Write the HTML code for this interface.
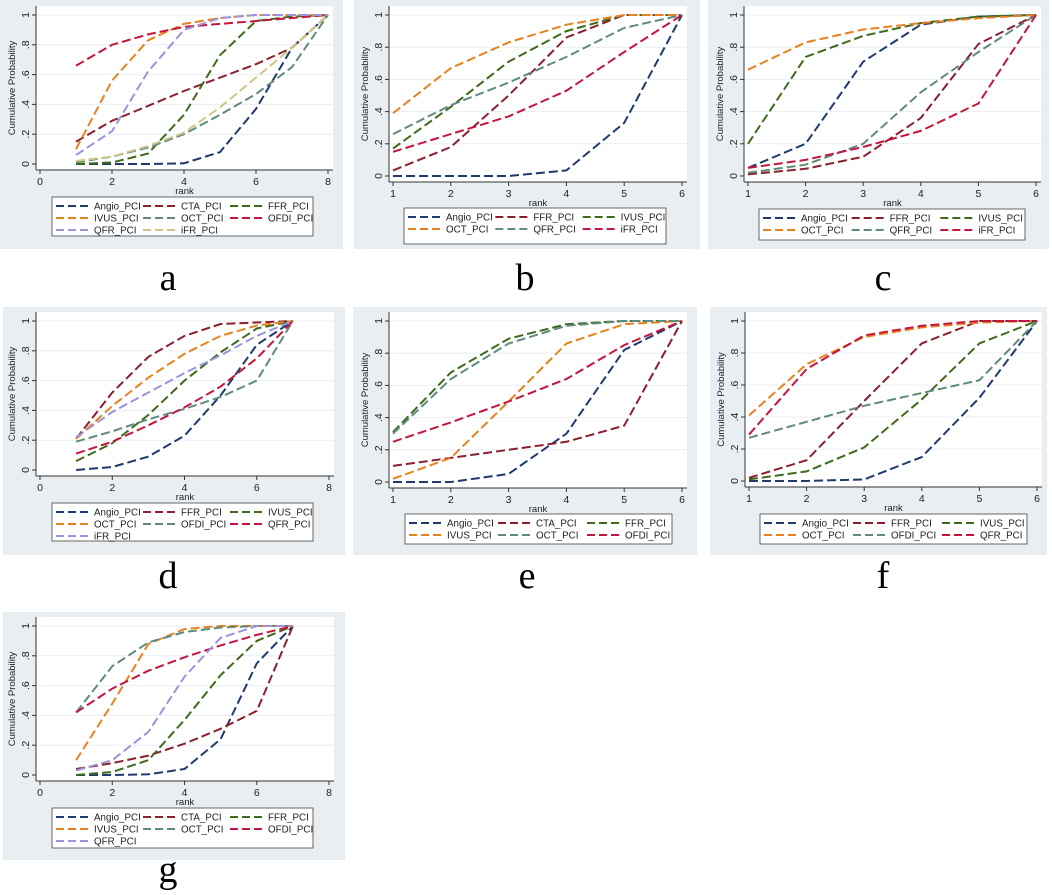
<!DOCTYPE html>
<html><head><meta charset="utf-8">
<style>
html,body{margin:0;padding:0;background:#fff;}
svg{display:block;font-family:"Liberation Sans",Arial,sans-serif;}
</style></head>
<body>
<svg id="fig" width="1052" height="895" viewBox="0 0 1052 895" xmlns="http://www.w3.org/2000/svg"></svg>
<script>
// ---------- data ----------
const colors = ['#1f3a6e','#8b1f2e','#3f6a1c','#e8821e','#5f8a7c','#c4163d','#9b93dc','#cfc585'];
const yTicks = [0,0.2,0.4,0.6,0.8,1];
const yTickLabels = ['0','.2','.4','.6','.8','1'];

const namesA = ['Angio_PCI','CTA_PCI','FFR_PCI','IVUS_PCI','OCT_PCI','OFDI_PCI','QFR_PCI','iFR_PCI'];
const valsA = [
 [0,0,0,0.005,0.08,0.37,0.78,1],
 [0.15,0.29,0.39,0.49,0.58,0.67,0.78,1],
 [0,0.01,0.07,0.33,0.73,0.96,0.99,1],
 [0.1,0.56,0.83,0.94,0.98,1,1,1],
 [0.01,0.05,0.11,0.2,0.33,0.47,0.65,1],
 [0.66,0.8,0.87,0.92,0.94,0.96,0.98,1],
 [0.06,0.22,0.62,0.9,0.98,1,1,1],
 [0.02,0.05,0.12,0.21,0.38,0.58,0.78,1]];
const namesB = ['Angio_PCI','FFR_PCI','IVUS_PCI','OCT_PCI','QFR_PCI','iFR_PCI'];
const valsB = [
 [0,0,0,0.035,0.33,1],
 [0.035,0.18,0.5,0.86,1,1],
 [0.17,0.43,0.71,0.9,1,1],
 [0.39,0.67,0.83,0.94,1,1],
 [0.26,0.44,0.58,0.74,0.92,1],
 [0.15,0.26,0.37,0.53,0.77,1]];
const namesC = ['Angio_PCI','FFR_PCI','IVUS_PCI','OCT_PCI','QFR_PCI','iFR_PCI'];
const valsC = [
 [0.05,0.2,0.71,0.94,0.99,1],
 [0.01,0.045,0.12,0.36,0.82,1],
 [0.2,0.74,0.87,0.95,0.99,1],
 [0.66,0.83,0.91,0.95,0.98,1],
 [0.02,0.07,0.2,0.52,0.77,1],
 [0.05,0.1,0.18,0.28,0.45,1]];
const namesD = ['Angio_PCI','FFR_PCI','IVUS_PCI','OCT_PCI','OFDI_PCI','QFR_PCI','iFR_PCI'];
const valsD = [
 [0,0.02,0.09,0.23,0.5,0.84,1],
 [0.21,0.52,0.76,0.9,0.98,0.99,1],
 [0.06,0.18,0.37,0.6,0.79,0.95,1],
 [0.21,0.43,0.62,0.78,0.9,0.97,1],
 [0.19,0.26,0.34,0.41,0.49,0.6,1],
 [0.11,0.19,0.3,0.42,0.56,0.75,1],
 [0.22,0.39,0.52,0.65,0.77,0.9,1]];
const namesE = ['Angio_PCI','CTA_PCI','FFR_PCI','IVUS_PCI','OCT_PCI','OFDI_PCI'];
const valsE = [
 [0,0,0.05,0.3,0.82,1],
 [0.1,0.15,0.2,0.25,0.35,1],
 [0.31,0.68,0.89,0.98,1,1],
 [0.02,0.15,0.5,0.86,0.98,1],
 [0.3,0.64,0.86,0.97,1,1],
 [0.25,0.37,0.5,0.64,0.85,1]];
const namesF = ['Angio_PCI','FFR_PCI','IVUS_PCI','OCT_PCI','OFDI_PCI','QFR_PCI'];
const valsF = [
 [0,0,0.01,0.15,0.52,1],
 [0.02,0.13,0.5,0.86,1,1],
 [0.01,0.06,0.21,0.51,0.86,1],
 [0.41,0.73,0.9,0.96,0.99,1],
 [0.27,0.37,0.47,0.55,0.63,1],
 [0.29,0.7,0.91,0.97,1,1]];
const namesG = ['Angio_PCI','CTA_PCI','FFR_PCI','IVUS_PCI','OCT_PCI','OFDI_PCI','QFR_PCI'];
const valsG = [
 [0,0,0.005,0.04,0.24,0.75,1],
 [0.04,0.08,0.13,0.21,0.31,0.43,1],
 [0,0.02,0.1,0.37,0.67,0.9,1],
 [0.1,0.48,0.88,0.98,1,1,1],
 [0.42,0.73,0.89,0.96,0.99,1,1],
 [0.42,0.58,0.7,0.79,0.87,0.94,1],
 [0.03,0.1,0.29,0.66,0.92,1,1]];
const xTicks8 = [0,2,4,6,8];
const xTicks6 = [1,2,3,4,5,6];

// ---------- layout ----------
const panels = [
 {id:'a',names:namesA,vals:valsA,xt:xTicks8,xmin:0,xmax:8,bg:[0,0,343,249],ax0:40,ax1:328,ay1:15,ay0:164,leg:[52,197,261,39],lab:[168,290]},
 {id:'b',names:namesB,vals:valsB,xt:xTicks6,xmin:1,xmax:6,bg:[354,0,346,249],ax0:393,ax1:682,ay1:15,ay0:176,leg:[404,208,262,36],lab:[525,290]},
 {id:'c',names:namesC,vals:valsC,xt:xTicks6,xmin:1,xmax:6,bg:[708,0,341,249],ax0:748,ax1:1036,ay1:15,ay0:176,leg:[759,209,266,31],lab:[883,290]},
 {id:'d',names:namesD,vals:valsD,xt:xTicks8,xmin:0,xmax:8,bg:[3,307,342,248],ax0:40,ax1:329,ay1:321,ay0:470,leg:[52,503,261,38],lab:[168,588]},
 {id:'e',names:namesE,vals:valsE,xt:xTicks6,xmin:1,xmax:6,bg:[353,307,344,248],ax0:393,ax1:682,ay1:321,ay0:482,leg:[405,514,267,30],lab:[527,588]},
 {id:'f',names:namesF,vals:valsF,xt:xTicks6,xmin:1,xmax:6,bg:[710,307,337,248],ax0:749,ax1:1037,ay1:321,ay0:481,leg:[760,514,267,30],lab:[883,588]},
 {id:'g',names:namesG,vals:valsG,xt:xTicks8,xmin:0,xmax:8,bg:[3,612,342,248],ax0:40,ax1:329,ay1:626,ay0:775,leg:[52,808,261,40],lab:[168,882]}
];

const NS='http://www.w3.org/2000/svg';
const svg=document.getElementById('fig');
function mk(tag,attrs,parent){const e=document.createElementNS(NS,tag);for(const k in attrs)e.setAttribute(k,attrs[k]);(parent||svg).appendChild(e);return e;}

panels.forEach(p=>{
  const g=mk('g',{});
  
  
  const xs=v=>p.ax0+(v-p.xmin)/(p.xmax-p.xmin)*(p.ax1-p.ax0);
  const ys=v=>p.ay0-v*(p.ay0-p.ay1);
  const bg=mk('rect',{x:p.bg[0],y:p.bg[1],width:p.bg[2],height:p.bg[3],fill:'#e9eef2'},g);
  
  
  const L=xs(p.xmin)-4, R=xs(p.xmax)+5, T=p.ay1-9, B=p.ay0+6;
  const pr=mk('rect',{x:L,y:T,width:R-L,height:B-T,fill:'#fff'},g);
  
  
  yTicks.forEach((t,i)=>{
    if(t>0){const gl=mk('line',{x1:L,x2:R,y1:ys(t),y2:ys(t),stroke:'#eaeef1','stroke-width':1},g);
    
    }
  });
  const ya=mk('line',{x1:L,x2:L,y1:T,y2:B,stroke:'#333','stroke-width':1},g);
  
  
  const xa=mk('line',{x1:L,x2:R,y1:B,y2:B,stroke:'#333','stroke-width':1},g);
  
  
  yTicks.forEach((t,i)=>{
    mk('line',{x1:L-4,x2:L,y1:ys(t),y2:ys(t),stroke:'#333','stroke-width':1},g);
    const tl=mk('text',{x:L-7,y:ys(t),'font-size':10.5,fill:'#222','text-anchor':'middle',transform:`rotate(-90 ${L-7} ${ys(t)})`},g);
    tl.textContent=yTickLabels[i];
    
    
  });
  p.xt.forEach(t=>{
    mk('line',{x1:xs(t),x2:xs(t),y1:B,y2:B+4,stroke:'#333','stroke-width':1},g);
    const tl=mk('text',{x:xs(t),y:B+15,'font-size':10.5,fill:'#222','text-anchor':'middle'},g);
    tl.textContent=String(t);
    
    
  });
  const xt=mk('text',{x:(L+R)/2,y:B+24,'font-size':9.5,fill:'#222','text-anchor':'middle'},g);
  xt.textContent='rank';
  
  
  const ytx=L-21, yty=(T+B)/2;
  const yt=mk('text',{x:ytx,y:yty,'font-size':9.5,fill:'#222','text-anchor':'middle',transform:`rotate(-90 ${ytx} ${yty})`},g);
  yt.textContent='Cumulative Probability';
  
  
  p.vals.forEach((arr,si)=>{
    const pts=arr.map((v,i)=>xs(p.xmin===0?i+1:p.xmin+i).toFixed(1)+','+ys(v).toFixed(1)).join(' ');
    const pl=mk('polyline',{points:pts,fill:'none',stroke:colors[si],'stroke-width':2,'stroke-dasharray':'9 4'},g);
    
    
  });
  const [lx,ly,lw,lh]=p.leg;
  const lg=mk('g',{},g);
  
  
  mk('rect',{x:lx,y:ly,width:lw,height:lh,fill:'#fff',stroke:'#444','stroke-width':0.8},lg);
  const cw=lw/3;
  p.names.forEach((n,i)=>{
    const c=i%3, r=Math.floor(i/3);
    const sx=lx+4+c*cw, sy=ly+9+r*12;
    mk('line',{x1:sx,x2:sx+32,y1:sy,y2:sy,stroke:colors[i],'stroke-width':2,'stroke-dasharray':'8 4'},lg);
    const t=mk('text',{x:sx+38,y:sy+3.5,'font-size':9.8,fill:'#222'},lg);
    t.textContent=n;
    
    
  });
  const lab=mk('text',{x:p.lab[0],y:p.lab[1],'font-size':38,fill:'#000','text-anchor':'middle','font-family':'"Liberation Serif",serif'},g);
  lab.textContent=p.id;
  
  
});
</script>
</body></html>
